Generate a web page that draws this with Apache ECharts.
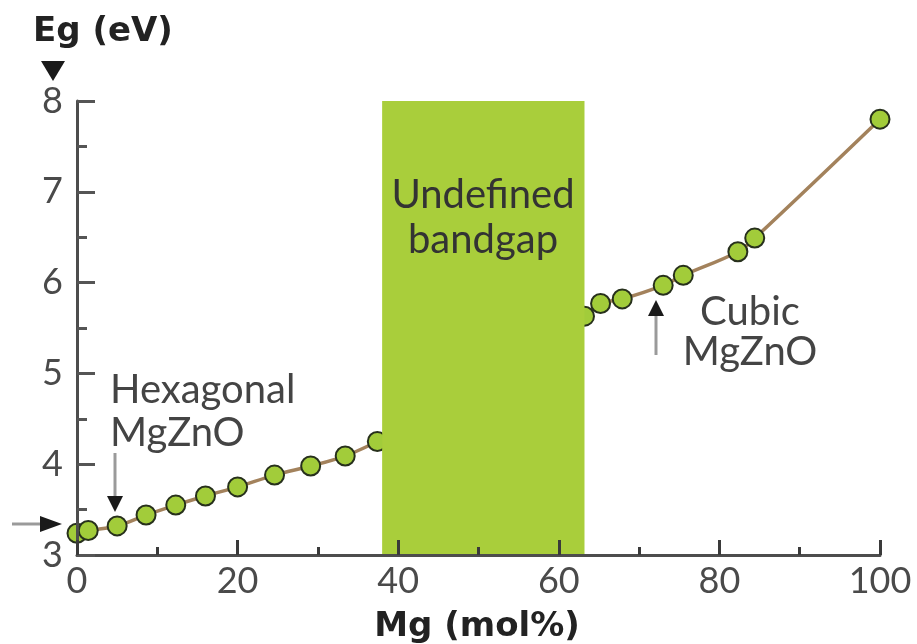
<!DOCTYPE html>
<html>
<head>
<meta charset="utf-8">
<script src="https://cdn.jsdelivr.net/npm/echarts@6/dist/echarts.min.js"></script>
<style>
  html, body { margin: 0; padding: 0; background: #fff; }
  #chart { width: 917px; height: 644px; }
</style>
</head>
<body>
<div id="chart"></div>
<script>
// hexagonal branch (Mg %, Eg eV)
var hexMg = [0, 1.4, 5.0, 8.6, 12.3, 16.0, 20.0, 24.6, 29.1, 33.4, 37.4]
var hexEg = [3.24, 3.27, 3.32, 3.44, 3.55, 3.65, 3.75, 3.88, 3.98, 4.09, 4.25]
// cubic branch
var cubMg = [63.2, 65.2, 67.9, 73.0, 75.5, 82.3, 84.4, 100]
var cubEg = [5.63, 5.77, 5.82, 5.97, 6.08, 6.34, 6.49, 7.80]
// undefined bandgap region
var gapRange = [38, 63.2]
var xTicks = [0, 20, 40, 60, 80, 100]
var yTicks = [3, 4, 5, 6, 7, 8]

function pairs(xs, ys) {
  return xs.map(function (x, i) { return [x, ys[i]] })
}

var hexData = pairs(hexMg, hexEg)
var cubData = pairs(cubMg, cubEg)

var textFont = 'Lato, "Open Sans", sans-serif'
var boldFont = '"DejaVu Sans", sans-serif'
var brown = '#a3825c'
var green = '#a9ce3b'

var chart = echarts.init(document.getElementById('chart'))

var option = {
  animation: false,
  backgroundColor: '#fff',
  grid: { left: 77, right: 37, top: 101, bottom: 89, containLabel: false },
  xAxis: {
    type: 'value',
    min: xTicks[0],
    max: xTicks[xTicks.length - 1],
    interval: 20,
    z: 20,
    axisLine: { lineStyle: { color: '#4d4d4d', width: 3 } },
    axisTick: { show: true, inside: true, length: 15, lineStyle: { color: '#3a3a3a', width: 3 } },
    minorTick: { show: true, splitNumber: 2, length: 8, lineStyle: { color: '#3a3a3a', width: 3 } },
    axisLabel: { margin: 8, fontSize: 36, color: '#4a4a4a', fontFamily: textFont },
    splitLine: { show: false }
  },
  yAxis: {
    type: 'value',
    min: yTicks[0],
    max: yTicks[yTicks.length - 1],
    interval: 1,
    z: 20,
    axisLine: { show: true, lineStyle: { color: '#4d4d4d', width: 3 } },
    axisTick: { show: true, inside: true, length: 18, lineStyle: { color: '#555', width: 3 } },
    minorTick: { show: true, splitNumber: 2, length: 10, lineStyle: { color: '#555', width: 3 } },
    axisLabel: { margin: 14, fontSize: 36, color: '#4a4a4a', fontFamily: textFont },
    splitLine: { show: false }
  },
  series: [
    {
      name: 'hexagonal fit',
      type: 'line',
      data: hexData,
      smooth: 0.3,
      showSymbol: false,
      lineStyle: { color: brown, width: 3.5 },
      z: 2
    },
    {
      name: 'cubic fit',
      type: 'line',
      data: cubData,
      smooth: 0.4,
      showSymbol: false,
      lineStyle: { color: brown, width: 3.5 },
      z: 2
    },
    {
      name: 'measured',
      type: 'scatter',
      data: hexData.concat(cubData),
      symbolSize: 19,
      itemStyle: { color: '#a2cc3a', borderColor: '#27301c', borderWidth: 2, opacity: 1 },
      z: 3
    },
    {
      name: 'gap',
      type: 'line',
      data: [],
      z: 10,
      markArea: {
        silent: true,
        z: 10,
        itemStyle: { color: green, opacity: 1 },
        label: { show: false },
        data: [[{ xAxis: gapRange[0], yAxis: yTicks[0] }, { xAxis: gapRange[1], yAxis: yTicks[yTicks.length - 1] }]]
      }
    }
  ],
  graphic: [
    { type: 'text', z: 50, x: 33, y: 32, style: { text: 'Eg (eV)', font: 'bold 34px ' + boldFont, fill: '#222', align: 'left', verticalAlign: 'middle' } },
    { type: 'polygon', z: 50, shape: { points: [[41, 61], [65, 61], [53, 81]] }, style: { fill: '#1a1a1a' } },
    { type: 'text', z: 50, x: 477, y: 627, style: { text: 'Mg (mol%)', font: 'bold 34px ' + boldFont, fill: '#222', align: 'center', verticalAlign: 'middle' } },
    { type: 'text', z: 50, x: 483, y: 195, style: { text: 'Undefined', font: '40px ' + textFont, fill: '#333', align: 'center', verticalAlign: 'middle' } },
    { type: 'text', z: 50, x: 483, y: 240, style: { text: 'bandgap', font: '40px ' + textFont, fill: '#333', align: 'center', verticalAlign: 'middle' } },
    { type: 'text', z: 50, x: 110, y: 390, style: { text: 'Hexagonal', font: '40px ' + textFont, fill: '#444', align: 'left', verticalAlign: 'middle' } },
    { type: 'text', z: 50, x: 110, y: 433, style: { text: 'MgZnO', font: '40px ' + textFont, fill: '#444', align: 'left', verticalAlign: 'middle' } },
    { type: 'text', z: 50, x: 750, y: 312, style: { text: 'Cubic', font: '40px ' + textFont, fill: '#444', align: 'center', verticalAlign: 'middle' } },
    { type: 'text', z: 50, x: 750, y: 352, style: { text: 'MgZnO', font: '40px ' + textFont, fill: '#444', align: 'center', verticalAlign: 'middle' } },
    // arrow at the left axis
    { type: 'line', z: 50, shape: { x1: 12, y1: 524, x2: 44, y2: 524 }, style: { stroke: '#9a9a9a', lineWidth: 3 } },
    { type: 'polygon', z: 50, shape: { points: [[40, 516], [62, 524], [40, 532]] }, style: { fill: '#1a1a1a' } },
    // hexagonal arrow
    { type: 'line', z: 50, shape: { x1: 115, y1: 453, x2: 115, y2: 498 }, style: { stroke: '#9a9a9a', lineWidth: 3 } },
    { type: 'polygon', z: 50, shape: { points: [[107, 496], [123, 496], [115, 512]] }, style: { fill: '#1a1a1a' } },
    // cubic arrow
    { type: 'line', z: 50, shape: { x1: 656, y1: 355, x2: 656, y2: 314 }, style: { stroke: '#9a9a9a', lineWidth: 3 } },
    { type: 'polygon', z: 50, shape: { points: [[648, 316], [664, 316], [656, 300]] }, style: { fill: '#1a1a1a' } }
  ]
}

chart.setOption(option)
</script>
</body>
</html>
